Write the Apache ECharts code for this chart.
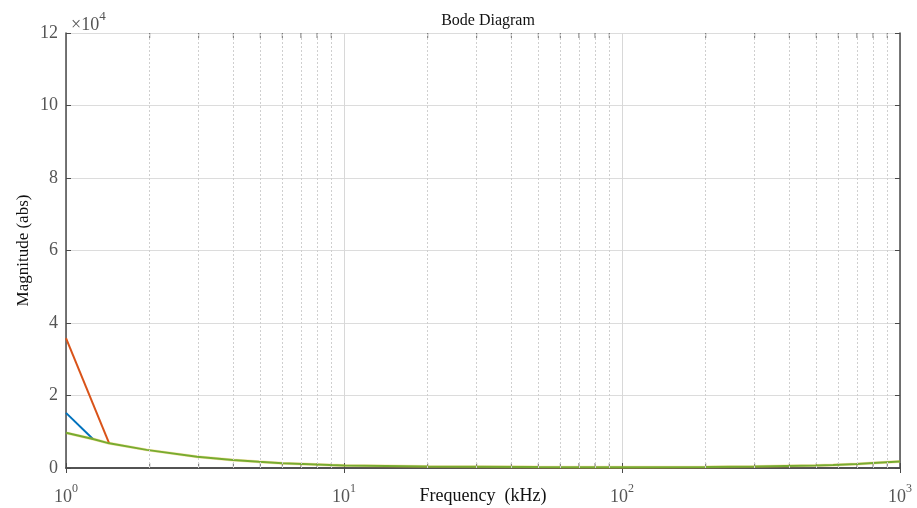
<!DOCTYPE html>
<html>
<head>
<meta charset="utf-8">
<script src="https://cdn.jsdelivr.net/npm/echarts@6/dist/echarts.min.js"></script>
<style>
  html, body { margin: 0; padding: 0; background: #fff; }
  #chart { width: 917px; height: 508px; }
</style>
</head>
<body>
<div id="chart"></div>
<script>
// frequency in kHz, magnitude in units of 1e4
const greenFreq = [1, 1.25, 1.43, 1.95, 2.96, 3.98, 4.94, 6, 8.9, 10, 20, 50, 100, 200, 300, 500, 575, 700, 800, 1000];
const greenMag = [0.97, 0.8, 0.68, 0.5, 0.31, 0.22, 0.17, 0.13, 0.08, 0.07, 0.04, 0.025, 0.02, 0.025, 0.04, 0.07, 0.08, 0.11, 0.14, 0.18];
const blueFreq = [1, 1.25];
const blueMag = [1.52, 0.8];
const orangeFreq = [1, 1.43];
const orangeMag = [3.58, 0.68];
const minorGrid = [2, 3, 4, 5, 6, 7, 8, 9, 20, 30, 40, 50, 60, 70, 80, 90, 200, 300, 400, 500, 600, 700, 800, 900];
const yTicks = [0, 2, 4, 6, 8, 10, 12];

const serif = "'Liberation Serif', 'DejaVu Serif', serif";
const axisColor = '#4a4a4a';
const labelColor = '#555';

function pairs(xs, ys) {
    return xs.map((x, i) => [x, ys[i]]);
}

const chart = echarts.init(document.getElementById('chart'));

const options = {
    animation: false,
    title: [
        {
            text: 'Bode Diagram',
            left: 483,
            top: 8,
            textAlign: 'center',
            textStyle: { fontFamily: serif, fontSize: 16, fontWeight: 'normal', color: '#111' },
        },
        {
            text: '{a|×10}{b|4}',
            left: 66,
            top: 1,
            textStyle: {
                fontWeight: 'normal',
                rich: {
                    a: { fontFamily: serif, fontSize: 18, fontWeight: 'normal', color: labelColor, padding: [10, 0, 0, 0] },
                    b: { fontFamily: serif, fontSize: 13, fontWeight: 'normal', color: labelColor, padding: [0, 0, 6, 0] },
                },
            },
        },
    ],
    grid: { left: 66, right: 17, top: 33, bottom: 40, outerBoundsMode: 'none' },
    xAxis: [
        {
            type: 'log',
            logBase: 10,
            min: 1,
            max: 1000,
            name: 'Frequency  (kHz)',
            nameLocation: 'middle',
            nameGap: 19,
            nameMoveOverlap: false,
            nameTextStyle: { fontFamily: serif, fontSize: 18, color: '#111' },
            axisLine: { lineStyle: { color: axisColor, width: 1.5 } },
            axisTick: { inside: true, length: 5, lineStyle: { color: axisColor } },
            splitLine: { show: true, lineStyle: { color: '#d8d8d8', width: 1 } },
            axisLabel: {
                margin: 12,
                formatter: (v) => '{b|10}{s|' + Math.round(Math.log10(v)) + '}',
                rich: {
                    b: { fontFamily: serif, fontSize: 18, color: labelColor, padding: [8, 0, 0, 0] },
                    s: { fontFamily: serif, fontSize: 12, color: labelColor, padding: [0, 0, 8, 0] },
                },
            },
        },
        {
            type: 'log',
            logBase: 10,
            min: 1,
            max: 1000,
            position: 'top',
            axisLine: { lineStyle: { color: axisColor, width: 1.5 } },
            axisTick: { inside: true, length: 5, lineStyle: { color: axisColor } },
            axisLabel: { show: false },
            splitLine: { show: false },
        },
    ],
    yAxis: [
        {
            type: 'value',
            min: 0,
            max: 12,
            interval: 2,
            name: 'Magnitude (abs)',
            nameLocation: 'middle',
            nameGap: 34,
            nameMoveOverlap: false,
            nameTextStyle: { fontFamily: serif, fontSize: 17, color: '#111' },
            axisLine: { show: true, lineStyle: { color: axisColor, width: 1.5 } },
            axisTick: { show: true, inside: true, length: 5, lineStyle: { color: axisColor } },
            splitLine: { show: true, lineStyle: { color: '#dcdcdc', width: 1 } },
            axisLabel: {
                margin: 8,
                fontFamily: serif,
                fontSize: 18,
                color: labelColor,
                formatter: (v) => (yTicks.includes(v) ? String(v) : ''),
            },
        },
        {
            type: 'value',
            min: 0,
            max: 12,
            interval: 2,
            position: 'right',
            axisLine: { show: true, lineStyle: { color: axisColor, width: 1.5 } },
            axisTick: { show: true, inside: true, length: 5, lineStyle: { color: axisColor } },
            axisLabel: { show: false },
            splitLine: { show: false },
        },
    ],
    series: [
        {
            // minor grid lines + minor ticks
            type: 'scatter',
            data: minorGrid.map((f) => [f, 0]),
            symbol: 'rect',
            symbolSize: [1, 5],
            symbolOffset: [0, -2.5],
            itemStyle: { color: axisColor },
            silent: true,
            markLine: {
                silent: true,
                symbol: 'none',
                label: { show: false },
                lineStyle: { color: '#cfcfcf', type: [2, 2], width: 1 },
                data: minorGrid.map((f) => ({ xAxis: f })),
            },
            z: 1,
        },
        {
            type: 'scatter',
            data: minorGrid.map((f) => [f, 12]),
            symbol: 'rect',
            symbolSize: [1, 5],
            symbolOffset: [0, 2.5],
            itemStyle: { color: axisColor },
            silent: true,
            clip: false,
            z: 1,
        },
        {
            name: 'orange',
            type: 'line',
            data: pairs(orangeFreq, orangeMag),
            showSymbol: false,
            lineStyle: { color: '#D95319', width: 2 },
            z: 3,
        },
        {
            name: 'blue',
            type: 'line',
            data: pairs(blueFreq, blueMag),
            showSymbol: false,
            lineStyle: { color: '#0072BD', width: 2 },
            z: 3,
        },
        {
            name: 'yellow',
            type: 'line',
            data: pairs(greenFreq, greenMag),
            showSymbol: false,
            lineStyle: { color: '#EDB120', width: 3, opacity: 0.35 },
            z: 3,
        },
        {
            name: 'green',
            type: 'line',
            data: pairs(greenFreq, greenMag),
            showSymbol: false,
            lineStyle: { color: '#77AC30', width: 2 },
            z: 4,
        },
    ],
};

chart.setOption(options);
</script>
</body>
</html>
